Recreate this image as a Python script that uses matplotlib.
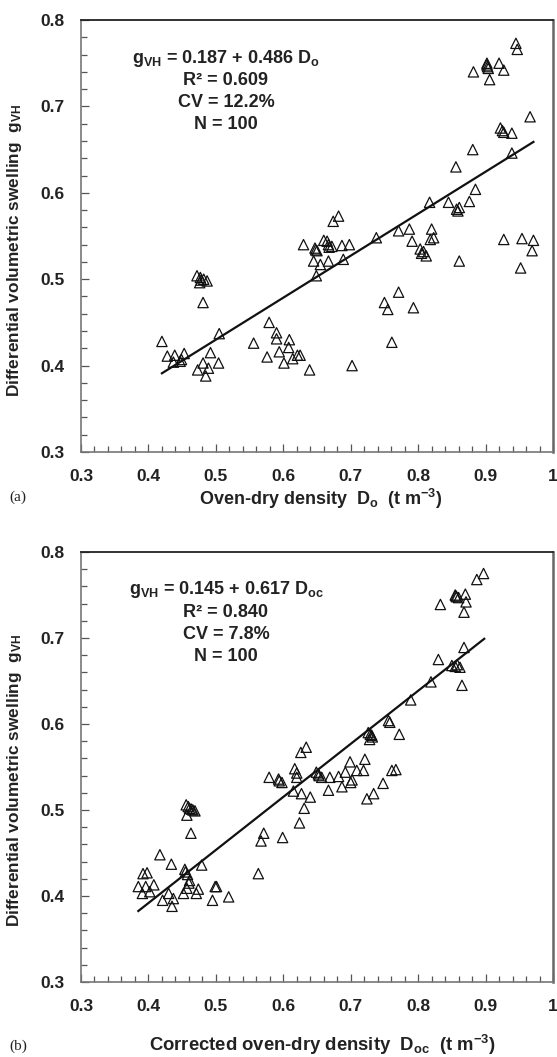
import matplotlib
matplotlib.use("Agg")
import matplotlib.pyplot as plt
from matplotlib.ticker import MultipleLocator
import numpy as np

plt.rcParams['font.family'] = ['Liberation Sans', 'DejaVu Sans']
plt.rcParams['font.weight'] = 'bold'
plt.rcParams['mathtext.fontset'] = 'custom'
plt.rcParams['mathtext.rm'] = 'Liberation Sans:bold'
plt.rcParams['mathtext.bf'] = 'Liberation Sans:bold'
plt.rcParams['mathtext.it'] = 'Liberation Sans:bold'

# Panel (a): oven-dry density vs differential volumetric swelling
x_a = [0.945, 0.947, 0.902, 0.902, 0.904, 0.920, 0.882, 0.906, 0.927, 0.966,
       0.922, 0.927, 0.939, 0.881, 0.939, 0.856, 0.885, 0.817, 0.845, 0.857,
       0.859, 0.876, 0.674, 0.682, 0.771, 0.787, 0.738, 0.820, 0.818, 0.823,
       0.791, 0.803, 0.805, 0.812, 0.630, 0.647, 0.650, 0.665, 0.667, 0.672,
       0.687, 0.698, 0.927, 0.954, 0.971, 0.969, 0.952, 0.645, 0.655, 0.667,
       0.689, 0.649, 0.861, 0.472, 0.477, 0.482, 0.487, 0.476, 0.481, 0.750,
       0.755, 0.771, 0.793, 0.761, 0.579, 0.590, 0.590, 0.556, 0.609, 0.608,
       0.594, 0.576, 0.601, 0.614, 0.621, 0.625, 0.639, 0.702, 0.420, 0.428,
       0.439, 0.453, 0.437, 0.447, 0.449, 0.505, 0.492, 0.504, 0.481, 0.473,
       0.489, 0.485, 0.668, 0.660, 0.903, 0.478, 0.648, 0.808, 0.861, 0.925]
y_a = [0.773, 0.766, 0.748, 0.750, 0.744, 0.750, 0.740, 0.731, 0.742, 0.688,
       0.675, 0.670, 0.669, 0.650, 0.646, 0.630, 0.604, 0.589, 0.589, 0.581,
       0.579, 0.590, 0.567, 0.573, 0.556, 0.558, 0.548, 0.558, 0.546, 0.548,
       0.544, 0.535, 0.530, 0.527, 0.540, 0.536, 0.533, 0.544, 0.540, 0.538,
       0.539, 0.540, 0.546, 0.547, 0.545, 0.533, 0.513, 0.521, 0.517, 0.521,
       0.523, 0.504, 0.521, 0.504, 0.502, 0.500, 0.498, 0.496, 0.473, 0.473,
       0.465, 0.485, 0.467, 0.427, 0.450, 0.438, 0.431, 0.426, 0.430, 0.421,
       0.416, 0.410, 0.403, 0.408, 0.412, 0.412, 0.395, 0.400, 0.428, 0.411,
       0.412, 0.414, 0.404, 0.405, 0.407, 0.437, 0.415, 0.403, 0.403, 0.395,
       0.397, 0.388, 0.537, 0.545, 0.746, 0.499, 0.534, 0.532, 0.583, 0.672]

# Panel (b): corrected oven-dry density vs differential volumetric swelling
x_b = [0.897, 0.887, 0.855, 0.857, 0.860, 0.870, 0.871, 0.833, 0.868, 0.868,
       0.830, 0.850, 0.855, 0.862, 0.865, 0.819, 0.789, 0.756, 0.758, 0.772,
       0.726, 0.731, 0.728, 0.732, 0.634, 0.626, 0.579, 0.593, 0.598, 0.617,
       0.620, 0.649, 0.652, 0.657, 0.669, 0.682, 0.692, 0.699, 0.709, 0.719,
       0.721, 0.702, 0.687, 0.667, 0.615, 0.627, 0.640, 0.761, 0.767, 0.748,
       0.734, 0.724, 0.631, 0.624, 0.456, 0.459, 0.464, 0.469, 0.457, 0.463,
       0.571, 0.567, 0.599, 0.563, 0.417, 0.434, 0.479, 0.454, 0.458, 0.461,
       0.460, 0.392, 0.398, 0.385, 0.396, 0.408, 0.391, 0.402, 0.430, 0.452,
       0.457, 0.471, 0.474, 0.499, 0.501, 0.421, 0.437, 0.435, 0.495, 0.519,
       0.700, 0.594, 0.856, 0.461, 0.729, 0.653, 0.466, 0.620, 0.858, 0.455]
y_b = [0.775, 0.768, 0.750, 0.748, 0.747, 0.751, 0.742, 0.739, 0.730, 0.689,
       0.675, 0.668, 0.667, 0.666, 0.645, 0.649, 0.628, 0.604, 0.602, 0.588,
       0.590, 0.587, 0.582, 0.585, 0.573, 0.567, 0.538, 0.536, 0.532, 0.548,
       0.538, 0.544, 0.542, 0.538, 0.538, 0.539, 0.544, 0.556, 0.546, 0.546,
       0.559, 0.535, 0.527, 0.523, 0.522, 0.519, 0.515, 0.546, 0.547, 0.531,
       0.519, 0.513, 0.502, 0.485, 0.506, 0.504, 0.501, 0.499, 0.494, 0.473,
       0.473, 0.464, 0.468, 0.426, 0.448, 0.437, 0.436, 0.431, 0.425, 0.418,
       0.415, 0.426, 0.427, 0.411, 0.411, 0.413, 0.403, 0.405, 0.403, 0.403,
       0.409, 0.403, 0.408, 0.411, 0.411, 0.395, 0.397, 0.388, 0.395, 0.399,
       0.532, 0.534, 0.749, 0.502, 0.588, 0.540, 0.500, 0.543, 0.669, 0.428]

fit_a = (0.187, 0.486)
fit_b = (0.145, 0.617)
range_a = (0.42, 0.971)
range_b = (0.385, 0.898)

text_a = ["g$_{\\mathrm{VH}}$ = 0.187 + 0.486 D$_{\\mathrm{o}}$", "R² = 0.609", "CV = 12.2%", "N = 100"]
text_b = ["g$_{\\mathrm{VH}}$ = 0.145 + 0.617 D$_{\\mathrm{oc}}$", "R² = 0.840", "CV = 7.8%", "N = 100"]

xticks = [0.3, 0.4, 0.5, 0.6, 0.7, 0.8, 0.9, 1.0]
xticklabels = ["0.3", "0.4", "0.5", "0.6", "0.7", "0.8", "0.9", "1"]
yticks = [0.3, 0.4, 0.5, 0.6, 0.7, 0.8]

W, H = 557, 1057
fig = plt.figure(figsize=(W / 100, H / 100), dpi=100)
fig.patch.set_facecolor('white')

ax_a = fig.add_axes([81 / W, 1 - 452 / H, 472 / W, 432 / H])
ax_b = fig.add_axes([81 / W, 1 - 982 / H, 472 / W, 430 / H])


def style(ax):
    ax.set_xlim(0.3, 1.0)
    ax.set_ylim(0.3, 0.8)
    ax.set_xticks(xticks)
    ax.set_xticklabels(xticklabels)
    ax.set_yticks(yticks)
    ax.set_yticklabels([f"{v:.1f}" for v in yticks])
    ax.xaxis.set_minor_locator(MultipleLocator(0.02))
    ax.yaxis.set_minor_locator(MultipleLocator(0.02))
    ax.tick_params(which='both', direction='in', top=False, right=False,
                   color='#555555', width=0.9)
    ax.tick_params(axis='x', which='major', length=6, pad=12, labelsize=12.5)
    ax.tick_params(axis='y', which='major', length=6, pad=12, labelsize=12.5)
    ax.tick_params(which='minor', length=4.5)
    for lab in ax.get_xticklabels() + ax.get_yticklabels():
        lab.set_fontweight('bold')
        lab.set_color('#222222')
    ax.spines['top'].set_color('#222222')
    ax.spines['top'].set_linewidth(1.3)
    ax.spines['right'].set_color('#666666')
    ax.spines['right'].set_linewidth(1.8)
    ax.spines['left'].set_color('#777777')
    ax.spines['left'].set_linewidth(1.2)
    ax.spines['bottom'].set_color('#777777')
    ax.spines['bottom'].set_linewidth(1.2)


for ax, xs, ys, fit, rng, txt in [(ax_a, x_a, y_a, fit_a, range_a, text_a),
                                   (ax_b, x_b, y_b, fit_b, range_b, text_b)]:
    style(ax)
    ax.scatter(xs, ys, marker='^', s=55, facecolors='none', edgecolors='#111111',
               linewidths=0.9, zorder=3)
    lx = np.array(rng)
    ax.plot(lx, fit[0] + fit[1] * lx, color='#111111', lw=1.6, zorder=2)
    ty = [0.756, 0.730, 0.704, 0.679]
    for t, yy in zip(txt, ty):
        ax.text(0.515, yy, t, ha='center', va='center', fontsize=13,
                fontweight='bold', color='#222222')

ylab = "Differential volumetric swelling  g$_{\\mathrm{VH}}$"
fig.text(15 / W, 1 - 250 / H, ylab, rotation=90, ha='center', va='center',
         fontsize=12.4, fontweight='bold', color='#222222')
fig.text(15 / W, 1 - 780 / H, ylab, rotation=90, ha='center', va='center',
         fontsize=12.4, fontweight='bold', color='#222222')

fig.text(321 / W, 1 - 499 / H, "Oven-dry density  D$_{\\mathrm{o}}$  (t m$^{\\mathrm{-3}}$)",
         ha='center', va='center', fontsize=13, fontweight='bold', color='#222222')
fig.text(322 / W, 1 - 1045 / H,
         "Corrected oven-dry density  D$_{\\mathrm{oc}}$  (t m$^{\\mathrm{-3}}$)",
         ha='center', va='center', fontsize=13.3, fontweight='bold', color='#222222')

fig.text(18 / W, 1 - 497 / H, "(a)", ha='center', va='center', fontsize=11,
         family='Liberation Serif', fontweight='normal', color='#222222')
fig.text(18 / W, 1 - 1046 / H, "(b)", ha='center', va='center', fontsize=11,
         family='Liberation Serif', fontweight='normal', color='#222222')

fig.savefig("out.png", dpi=100, facecolor='white')
